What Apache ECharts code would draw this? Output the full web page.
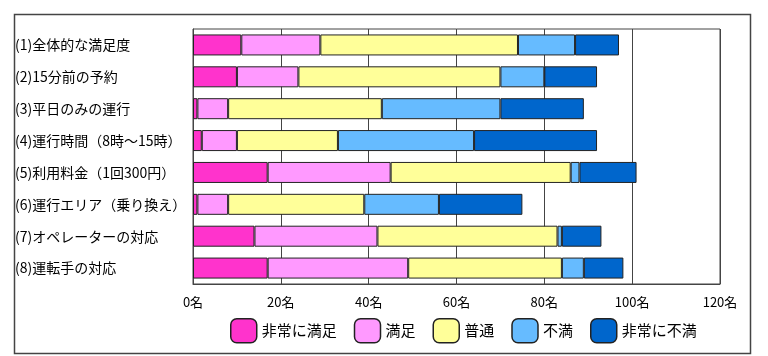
<!DOCTYPE html>
<html>
<head>
<meta charset="utf-8">
<script src="https://cdn.jsdelivr.net/npm/echarts@6/dist/echarts.min.js"></script>
<style>
html,body{margin:0;padding:0;background:#fff;}
#chart{width:768px;height:356px;}
</style>
</head>
<body>
<div id="chart"></div>
<script>
const categories = ['(1)全体的な満足度','(2)15分前の予約','(3)平日のみの運行','(4)運行時間（8時～15時）','(5)利用料金（1回300円）','(6)運行エリア（乗り換え）','(7)オペレーターの対応','(8)運転手の対応'];
const seriesNames = ['非常に満足','満足','普通','不満','非常に不満'];
const verySatisfied = [11,10,1,2,17,1,14,17];
const satisfied = [18,14,7,8,28,7,28,32];
const neutral = [45,46,35,23,41,31,41,35];
const dissatisfied = [13,10,27,31,2,17,1,5];
const veryDissatisfied = [10,12,19,28,13,19,9,9];
const xTicks = {min:0, max:120, interval:20, unit:'名'};
const colors = ['#FF33CC','#FF99FF','#FFFF99','#66BBFF','#0066CC'];

const FONT = '"Noto Sans CJK JP", "Noto Sans", sans-serif';
const seriesData = [verySatisfied, satisfied, neutral, dissatisfied, veryDissatisfied];

const chart = echarts.init(document.getElementById('chart'), null, {renderer:'canvas'});
chart.setOption({
  animation:false,
  backgroundColor:'#fff',
  textStyle:{fontFamily:FONT},
  graphic:[{
    type:'rect', left:12, top:12,
    shape:{width:736, height:339},
    style:{fill:'none', stroke:'#444', lineWidth:1.5},
    z:-1
  }],
  grid:{left:193, right:48, top:29, bottom:72, show:true, borderColor:'#444', borderWidth:1, backgroundColor:'transparent'},
  legend:{
    data:seriesNames, left:225, top:313, itemWidth:26, itemHeight:24, itemGap:17,
    textStyle:{fontSize:15, color:'#000', fontFamily:FONT},
    itemStyle:{borderColor:'#222', borderWidth:1.5}
  },
  xAxis:{
    type:'value', min:xTicks.min, max:xTicks.max, interval:xTicks.interval,
    axisLine:{show:true, lineStyle:{color:'#444'}},
    axisTick:{show:false},
    splitLine:{show:true, lineStyle:{color:'#444', width:1}},
    axisLabel:{formatter:'{value}'+xTicks.unit, fontSize:13, color:'#000', margin:12, fontFamily:FONT}
  },
  yAxis:{
    type:'category', data:categories, inverse:true,
    axisLine:{show:true, lineStyle:{color:'#444'}},
    axisTick:{show:false},
    splitLine:{show:false},
    axisLabel:{align:'left', margin:178, fontSize:14, color:'#000', fontFamily:FONT}
  },
  series: seriesNames.map((n,i)=>({
    name:n, type:'bar', stack:'total', data:seriesData[i], barWidth:21,
    itemStyle:{color:colors[i], borderColor:'#222', borderWidth:1}
  }))
});
</script>
</body>
</html>
